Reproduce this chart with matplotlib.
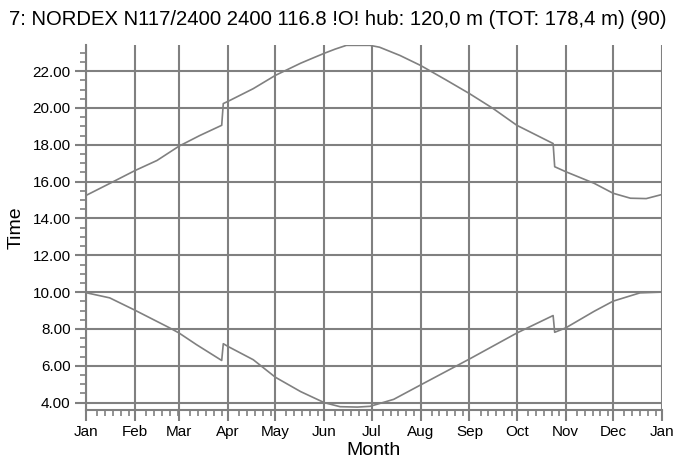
import matplotlib

matplotlib.use("Agg")
import matplotlib.pyplot as plt
import numpy as np
from matplotlib.ticker import FixedLocator, MultipleLocator, FormatStrFormatter

plt.rcParams["font.family"] = ["Liberation Sans", "DejaVu Sans"]

TITLE = "7: NORDEX N117/2400 2400 116.8 !O! hub: 120,0 m (TOT: 178,4 m) (90)"

# day-of-year at the start of each month (Jan of next year closes the axis)
month_starts = [0, 31, 59, 90, 120, 151, 181, 212, 243, 273, 304, 334, 365]
month_labels = ["Jan", "Feb", "Mar", "Apr", "May", "Jun",
                "Jul", "Aug", "Sep", "Oct", "Nov", "Dec", "Jan"]

# latest shadow time of day (hours)
late_days = [0, 15, 31, 45, 59, 72, 86, 87, 90, 106, 120, 136, 144, 151, 158,
             165, 180, 186, 199, 212, 228, 243, 258, 273, 296, 297, 304, 322,
             334, 345, 355, 364]
late_hours = [15.25, 15.9, 16.6, 17.15, 17.93, 18.5, 19.06, 20.24, 20.36, 21.05,
              21.77, 22.43, 22.72, 22.97, 23.2, 23.4, 23.4, 23.3, 22.85, 22.31,
              21.53, 20.78, 19.97, 19.06, 18.07, 16.81, 16.54, 15.91, 15.37,
              15.1, 15.08, 15.28]

# earliest shadow time of day (hours)
early_days = [0, 15, 31, 53, 59, 70, 86, 87, 90, 106, 120, 136, 151, 161, 172,
              180, 195, 212, 243, 273, 296, 297, 304, 322, 334, 351, 364]
early_hours = [9.97, 9.69, 9.02, 8.06, 7.78, 7.15, 6.29, 7.2, 7.05, 6.33, 5.38,
               4.6, 4.0, 3.78, 3.76, 3.8, 4.18, 4.96, 6.37, 7.78, 8.73, 7.82,
               8.06, 8.96, 9.51, 9.96, 10.0]

GRAY = "#808080"

fig = plt.figure(figsize=(6.76, 4.61), dpi=100)
ax = fig.add_axes([0.1272, 0.1106, 0.8521, 0.7918])

ax.plot(late_days, late_hours, color=GRAY, lw=1.2, zorder=3)
ax.plot(early_days, early_hours, color=GRAY, lw=1.2, zorder=3)

ax.set_xlim(0, 365)
ax.set_ylim(3.6, 23.42)

ax.xaxis.set_major_locator(FixedLocator(month_starts))
ax.set_xticklabels(month_labels)
minor_x = [m + k for m, nxt in zip(month_starts[:-1], month_starts[1:])
           for k in (7, 12, 17, 22, 27) if m + k < nxt]
ax.xaxis.set_minor_locator(FixedLocator(minor_x))

ax.yaxis.set_major_locator(FixedLocator(np.arange(4, 23, 2)))
ax.yaxis.set_major_formatter(FormatStrFormatter("%.2f"))
ax.yaxis.set_minor_locator(MultipleLocator(0.5))

ax.grid(True, which="major", color=GRAY, lw=1.5, zorder=1)
ax.set_axisbelow(True)

for side in ("top", "right"):
    ax.spines[side].set_visible(False)
for side in ("left", "bottom"):
    ax.spines[side].set_color(GRAY)
    ax.spines[side].set_linewidth(1.5)

ax.tick_params(which="major", direction="out", length=8, width=1.5,
               color=GRAY, labelsize=11, pad=3)
ax.tick_params(which="minor", direction="out", length=4, width=1.2, color=GRAY)
ax.tick_params(axis="x", which="major", pad=3)

ax.set_xlabel("Month", fontsize=14, labelpad=2)
ax.set_ylabel("Time", fontsize=14, labelpad=6)
fig.text(0.5, 0.958, TITLE, ha="center", va="center", fontsize=14.6)

fig.savefig("out.png", dpi=100)
